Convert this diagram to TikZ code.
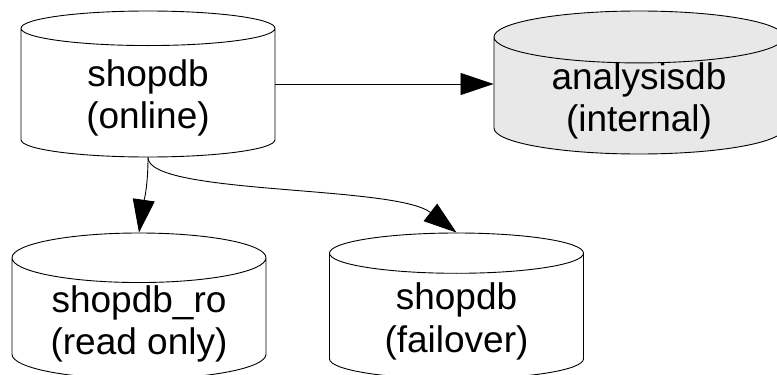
\documentclass[tikz,border=0pt]{standalone}
\usepackage{fontspec}
\setmainfont{Liberation Sans}
\usetikzlibrary{shapes.geometric, arrows.meta}
\definecolor{dbgray}{RGB}{232, 232, 232}
\newcommand{\dblabel}[2]{\begin{tabular}[t]{@{}c@{}}#1\\#2\end{tabular}}

\begin{document}
\begin{tikzpicture}[x=1pt, y=-1pt,
    db/.style={cylinder, shape border rotate=90, draw, line width=0.9pt, shape aspect=0.28,
        minimum width=254pt, minimum height=146pt, inner sep=0pt, anchor=shape center,
        text height=0pt, text depth=13pt, font=\fontsize{37}{42.5}\selectfont},
    link/.style={line width=0.9pt, -{Triangle[length=33pt, width=22pt]}}]
    \useasboundingbox (0,0) rectangle (777,375);

    % Databases
    \node[db] (shop) at (148,84) {\dblabel{shopdb}{(online)}};
    \node[db, fill=dbgray, minimum width=290pt, minimum height=143pt, shape aspect=0.297] (ana) at (639,82.5) {\dblabel{analysisdb}{(internal)}};
    \node[db] (ro) at (139,306) {\dblabel{shopdb\_ro}{(read only)}};
    \node[db] (fail) at (456.5,306) {\dblabel{shopdb}{(failover)}};

    % Replication
    \draw[link] (shop.shape center -| shop.east) -- (shop.shape center -| ana.west);
    \draw[link] (shop.south) .. controls (148,190) and (143,205) .. (ro.north);
    \draw[link] (shop.south) .. controls (148,195) and (395,185) .. (fail.north);
\end{tikzpicture}
\end{document}
